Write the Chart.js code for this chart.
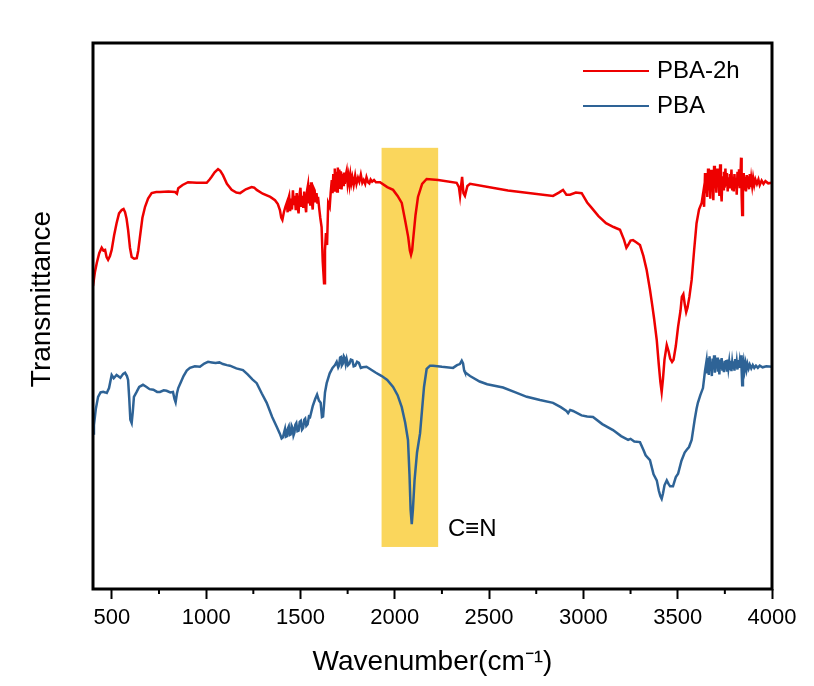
<!DOCTYPE html>
<html>
<head>
<meta charset="utf-8">
<script src="https://cdn.jsdelivr.net/npm/chart.js@4.4.0/dist/chart.umd.min.js"></script>
<style>
    html, body { margin: 0; padding: 0; background: #fff; }
    #wrap { width: 814px; height: 686px; }
</style>
</head>
<body>
<div id="wrap"><canvas id="ftir" width="814" height="686"></canvas></div>
<script>
// FTIR spectra: [wavenumber (cm-1), transmittance (a.u.)]
var pba2hPoints = [
    [400,55.5],[410,58.0],[420,59.7],[433,61.5],[446,62.5],[455,62.0],[464,62.1],[472,60.8],[480,60.3],[490,61.0],
    [499,62.1],[512,64.8],[525,67.0],[538,68.8],[552,69.4],[562,69.6],[570,69.0],[578,67.8],[586,65.8],[596,62.5],
    [605,60.8],[618,60.5],[632,60.6],[640,62.0],[649,64.5],[662,68.0],[676,70.0],[692,71.5],[711,72.5],[735,72.7],
    [755,72.7],[800,72.8],[835,72.7],[845,72.4],[852,73.4],[875,74.0],[904,74.5],[950,74.4],[1003,74.4],[1018,75.0],
    [1029,75.5],[1045,76.3],[1063,76.9],[1075,76.6],[1089,75.8],[1110,74.2],[1135,73.1],[1160,72.6],[1180,72.5],[1210,73.2],
    [1241,73.6],[1255,73.5],[1268,73.1],[1300,72.4],[1340,71.8],[1365,71.2],[1380,70.5],[1391,69.4],[1398,68.0],[1404,67.6],
    [1412,69.0],[1420,70.0],[1427,70.7],[1432,69.0],[1436,71.5],[1440,72.0],[1445,69.2],[1450,71.5],[1455,69.5],[1460,73.0],
    [1465,70.3],[1470,72.0],[1475,69.4],[1480,72.5],[1485,70.0],[1490,68.8],[1495,72.2],[1500,73.5],[1505,70.0],[1510,72.0],
    [1515,69.8],[1520,72.8],[1525,70.4],[1530,69.0],[1535,73.0],[1540,74.0],[1544,70.6],[1548,72.5],[1552,70.2],[1556,74.5],
    [1560,71.0],[1565,69.5],[1570,73.4],[1575,73.0],[1580,70.8],[1585,72.5],[1590,70.6],[1593,71.8],[1600,69.5],[1605,68.0],
    [1612,66.3],[1618,60.0],[1625,56.0],[1630,62.0],[1635,65.2],[1641,63.0],[1647,70.7],[1655,70.0],[1660,72.5],[1666,74.9],
    [1670,72.5],[1674,76.0],[1678,73.0],[1682,77.0],[1686,73.2],[1690,76.4],[1694,72.8],[1698,77.2],[1702,74.0],[1706,76.8],
    [1710,73.5],[1714,76.5],[1718,73.2],[1722,76.0],[1726,74.0],[1730,76.3],[1735,74.2],[1740,75.8],[1745,76.6],[1750,74.3],
    [1755,75.6],[1760,74.1],[1765,75.8],[1770,74.4],[1775,75.4],[1782,74.0],[1790,75.7],[1797,74.2],[1805,75.3],[1812,74.6],
    [1820,75.9],[1828,74.4],[1835,74.9],[1843,74.2],[1850,75.4],[1858,74.5],[1865,74.3],[1872,75.0],[1880,74.6],[1890,74.9],
    [1900,74.5],[1922,74.5],[1960,73.6],[1991,73.1],[2015,72.0],[2037,70.7],[2055,67.5],[2071,64.5],[2080,62.0],[2086,61.2],
    [2092,62.0],[2097,63.9],[2110,68.5],[2123,71.8],[2145,74.2],[2169,75.1],[2230,74.9],[2328,74.4],[2340,73.6],[2346,72.0],
    [2352,74.0],[2357,75.5],[2364,72.5],[2372,72.0],[2385,73.8],[2399,74.2],[2600,73.0],[2839,72.0],[2870,72.6],[2892,73.1],
    [2910,72.2],[2929,72.2],[2960,72.6],[2991,72.5],[3020,70.8],[3044,69.8],[3080,68.3],[3120,67.0],[3160,66.3],[3194,65.8],
    [3215,64.0],[3228,62.5],[3237,63.0],[3250,63.8],[3263,63.9],[3280,63.5],[3300,63.0],[3318,61.0],[3335,58.5],[3353,54.8],
    [3365,52.0],[3375,49.5],[3389,45.6],[3400,41.0],[3408,38.0],[3415,36.1],[3422,38.5],[3430,42.0],[3442,44.7],[3452,43.5],
    [3460,42.2],[3470,41.6],[3478,42.0],[3490,44.5],[3502,48.0],[3515,51.0],[3522,53.5],[3530,54.0],[3538,52.0],[3545,50.7],
    [3552,51.5],[3562,53.5],[3574,56.6],[3587,62.0],[3600,67.0],[3613,69.5],[3627,70.7],[3635,72.5],[3640,70.0],[3645,76.2],
    [3649,72.5],[3653,75.0],[3657,71.8],[3661,77.0],[3665,73.0],[3669,76.0],[3673,71.5],[3677,76.8],[3681,72.8],[3685,75.5],
    [3689,71.2],[3693,77.5],[3697,73.4],[3701,76.3],[3705,72.6],[3709,77.0],[3713,73.8],[3717,75.8],[3721,72.0],[3725,77.8],
    [3729,73.0],[3733,71.0],[3737,75.6],[3741,73.2],[3745,76.4],[3749,73.5],[3753,77.0],[3757,74.0],[3761,76.2],[3765,72.8],
    [3769,75.4],[3773,73.6],[3777,76.0],[3781,74.0],[3785,76.8],[3789,73.2],[3793,75.5],[3797,72.8],[3801,76.0],[3805,73.6],
    [3809,75.2],[3813,72.2],[3817,76.4],[3821,74.0],[3825,76.9],[3829,73.4],[3833,75.8],[3836,79.0],[3839,72.0],[3842,68.5],
    [3846,75.0],[3850,76.2],[3854,73.0],[3858,75.5],[3862,72.8],[3866,75.8],[3870,73.5],[3874,75.6],[3878,73.2],[3882,76.0],
    [3886,73.6],[3890,75.2],[3895,73.8],[3900,75.3],[3906,74.0],[3912,75.0],[3920,74.2],[3928,75.0],[3935,74.0],[3945,74.8],
    [3955,74.2],[3965,74.7],[3980,74.3],[4000,74.4]
];
var pbaPoints = [
    [400,28.5],[405,30.0],[415,33.0],[427,35.2],[440,36.0],[454,36.1],[465,36.0],[473,35.9],[485,36.8],[499,39.2],
    [510,38.6],[525,39.2],[545,38.7],[560,39.4],[570,39.6],[580,39.0],[586,38.3],[592,35.0],[598,31.0],[605,30.4],
    [611,32.5],[617,35.2],[630,36.0],[645,37.0],[665,37.4],[684,37.0],[700,36.6],[720,36.5],[740,36.1],[755,36.1],
    [775,36.4],[790,36.3],[810,36.0],[824,36.1],[832,34.8],[838,34.2],[845,35.8],[852,36.8],[865,37.8],[880,39.0],
    [897,40.0],[914,40.5],[940,40.8],[967,40.7],[990,41.3],[1010,41.6],[1030,41.5],[1050,41.4],[1070,41.5],[1089,41.2],
    [1110,41.0],[1126,40.9],[1160,40.4],[1195,40.1],[1220,39.3],[1245,38.4],[1268,37.7],[1295,35.8],[1321,34.1],[1350,31.5],
    [1374,29.7],[1390,28.5],[1400,27.6],[1407,27.8],[1412,28.5],[1418,29.3],[1423,27.9],[1428,28.0],[1433,29.4],[1438,29.8],
    [1443,28.2],[1448,28.3],[1453,29.9],[1458,29.5],[1463,28.1],[1468,28.6],[1473,30.1],[1478,30.4],[1484,28.9],[1490,29.0],
    [1496,30.6],[1502,30.8],[1508,29.2],[1514,29.5],[1520,31.0],[1525,31.2],[1531,29.9],[1538,30.2],[1545,31.6],[1551,31.5],
    [1565,33.5],[1578,34.8],[1588,35.6],[1598,34.5],[1607,34.1],[1614,31.5],[1620,31.6],[1630,36.0],[1639,37.7],[1655,39.5],
    [1670,40.5],[1683,41.0],[1692,41.6],[1700,40.6],[1705,41.0],[1710,42.4],[1715,42.5],[1720,41.0],[1725,41.3],[1730,42.6],
    [1735,42.3],[1740,41.2],[1745,42.1],[1752,41.0],[1760,41.3],[1767,42.0],[1775,41.9],[1782,40.8],[1790,40.9],[1800,41.6],
    [1810,41.4],[1820,40.5],[1830,40.6],[1850,40.7],[1869,40.3],[1900,39.6],[1931,39.0],[1960,38.3],[1991,37.0],[2015,35.5],
    [2037,33.3],[2055,30.5],[2070,27.3],[2078,21.0],[2084,14.5],[2090,11.9],[2096,14.5],[2105,20.0],[2118,25.0],[2134,28.5],
    [2145,33.0],[2155,37.0],[2169,40.3],[2187,40.9],[2203,40.9],[2250,40.7],[2309,40.5],[2330,41.0],[2345,41.2],[2355,41.8],
    [2362,41.3],[2368,40.0],[2372,39.7],[2399,39.0],[2450,38.0],[2490,37.5],[2574,36.9],[2640,36.0],[2700,35.2],[2770,34.6],
    [2839,34.1],[2880,33.3],[2910,32.6],[2919,32.2],[2930,32.8],[2945,32.6],[2990,31.8],[3020,31.6],[3051,31.5],[3100,30.2],
    [3157,29.1],[3200,28.0],[3237,27.3],[3250,27.5],[3270,27.0],[3300,26.9],[3318,25.5],[3330,24.5],[3353,23.6],[3372,21.0],
    [3389,19.9],[3400,18.0],[3408,17.0],[3415,16.5],[3422,17.5],[3430,19.0],[3442,19.9],[3452,19.2],[3460,18.8],[3475,18.8],
    [3490,20.5],[3502,21.1],[3520,23.5],[3537,25.0],[3548,25.5],[3560,26.0],[3574,27.3],[3590,31.0],[3600,33.0],[3607,34.1],
    [3620,35.5],[3634,36.8],[3645,40.0],[3653,41.8],[3657,39.5],[3661,42.3],[3665,39.2],[3669,42.6],[3673,40.0],[3677,41.6],
    [3681,39.0],[3685,42.2],[3689,40.2],[3693,42.8],[3697,39.6],[3701,41.9],[3705,40.4],[3709,42.4],[3713,39.8],[3717,41.5],
    [3721,39.3],[3725,42.0],[3729,40.3],[3733,42.3],[3737,40.0],[3741,41.4],[3745,39.7],[3749,41.8],[3753,40.2],[3757,41.9],
    [3761,39.8],[3765,42.0],[3769,40.5],[3773,41.6],[3777,40.1],[3781,41.8],[3785,39.9],[3789,41.5],[3793,40.3],[3797,41.7],
    [3801,40.0],[3805,42.1],[3809,40.4],[3813,41.6],[3817,40.2],[3821,41.9],[3825,40.5],[3829,41.7],[3833,40.6],[3836,42.8],
    [3839,40.0],[3842,37.3],[3846,40.5],[3850,41.6],[3855,40.1],[3860,41.3],[3865,40.2],[3870,41.2],[3876,40.4],[3882,41.1],
    [3890,40.4],[3898,41.0],[3906,40.5],[3915,40.9],[3925,40.5],[3935,40.9],[3950,40.6],[3970,40.8],[4000,40.7]
];
var seriesNames = ['PBA-2h', 'PBA'];
var majorTicks = [500, 1000, 1500, 2000, 2500, 3000, 3500, 4000];
var minorTicks = [750, 1250, 1750, 2250, 2750, 3250, 3750];
// highlighted C≡N region and its label
var bandWn = [1930, 2230];
var bandT = [7.7, 80.8];
var bandLabel = 'C≡N';
var bandLabelAt = [2282, 11.0];

var FONT = '"Liberation Sans", Arial, sans-serif';

function toXY(points) {
    return points.map(function (p) { return { x: p[0], y: p[1] }; });
}

// frame, yellow band and hand-placed notes
var decorPlugin = {
    id: 'decor',
    beforeDatasetsDraw: function (chart) {
        var ctx = chart.ctx, sx = chart.scales.x, sy = chart.scales.y;
        var x0 = sx.getPixelForValue(bandWn[0]), x1 = sx.getPixelForValue(bandWn[1]);
        var y0 = sy.getPixelForValue(bandT[1]), y1 = sy.getPixelForValue(bandT[0]);
        ctx.save();
        ctx.fillStyle = '#FAD65C';
        ctx.fillRect(x0, y0, x1 - x0, y1 - y0);
        ctx.restore();
    },
    afterDraw: function (chart) {
        var ctx = chart.ctx, a = chart.chartArea, sx = chart.scales.x, sy = chart.scales.y;
        ctx.save();
        ctx.strokeStyle = '#000';
        ctx.lineWidth = 2;
        minorTicks.forEach(function (v) {
            var px = sx.getPixelForValue(v);
            ctx.beginPath();
            ctx.moveTo(px, a.bottom);
            ctx.lineTo(px, a.bottom + 5);
            ctx.stroke();
        });
        ctx.lineWidth = 3;
        ctx.strokeRect(a.left, a.top, a.right - a.left, a.bottom - a.top);

        // legend
        ctx.textAlign = 'left';
        ctx.textBaseline = 'middle';
        ctx.font = '24px ' + FONT;
        chart.data.datasets.forEach(function (ds, i) {
            var ly = a.top + 28 + i * 35;
            ctx.strokeStyle = ds.borderColor;
            ctx.lineWidth = 2;
            ctx.beginPath();
            ctx.moveTo(a.right - 189, ly);
            ctx.lineTo(a.right - 123, ly);
            ctx.stroke();
            ctx.fillStyle = '#000';
            ctx.fillText(ds.label, a.right - 115, ly);
        });

        // C≡N
        ctx.fillStyle = '#000';
        ctx.font = '24px ' + FONT;
        ctx.fillText(bandLabel, sx.getPixelForValue(bandLabelAt[0]), sy.getPixelForValue(bandLabelAt[1]));

        // y title
        ctx.font = '28px ' + FONT;
        ctx.textAlign = 'center';
        ctx.translate(42, a.top + 256);
        ctx.rotate(-Math.PI / 2);
        ctx.fillText('Transmittance', 0, 0);
        ctx.restore();
    }
};

var ctx = document.getElementById('ftir').getContext('2d');
var ftirChart = new Chart(ctx, {
    type: 'line',
    data: {
        datasets: [{
            label: seriesNames[0],
            data: toXY(pba2hPoints),
            borderColor: '#EE0000',
            borderWidth: 2.5,
            pointRadius: 0,
            tension: 0
        }, {
            label: seriesNames[1],
            data: toXY(pbaPoints),
            borderColor: '#2E6396',
            borderWidth: 2.5,
            pointRadius: 0,
            tension: 0
        }]
    },
    options: {
        responsive: false,
        animation: false,
        devicePixelRatio: 1,
        layout: { padding: { left: 93, top: 43, right: 42, bottom: 0 } },
        plugins: {
            legend: { display: false },
            tooltip: { enabled: false }
        },
        scales: {
            x: {
                type: 'linear',
                min: 400,
                max: 4000,
                afterBuildTicks: function (scale) {
                    scale.ticks = majorTicks.map(function (v) { return { value: v }; });
                },
                afterFit: function (scale) { scale.height = 97; },
                grid: {
                    drawOnChartArea: false,
                    tickLength: 10,
                    tickWidth: 2,
                    tickColor: '#000'
                },
                border: { display: false },
                ticks: {
                    autoSkip: false,
                    maxRotation: 0,
                    padding: 6,
                    color: '#000',
                    font: { family: FONT, size: 22 },
                    callback: function (value) { return String(value); }
                },
                title: {
                    display: true,
                    text: 'Wavenumber(cm⁻¹)',
                    color: '#000',
                    font: { family: FONT, size: 28 },
                    padding: { top: 0, bottom: 7 }
                }
            },
            y: {
                display: false,
                min: 0,
                max: 100
            }
        }
    },
    plugins: [decorPlugin]
});
</script>
</body>
</html>
